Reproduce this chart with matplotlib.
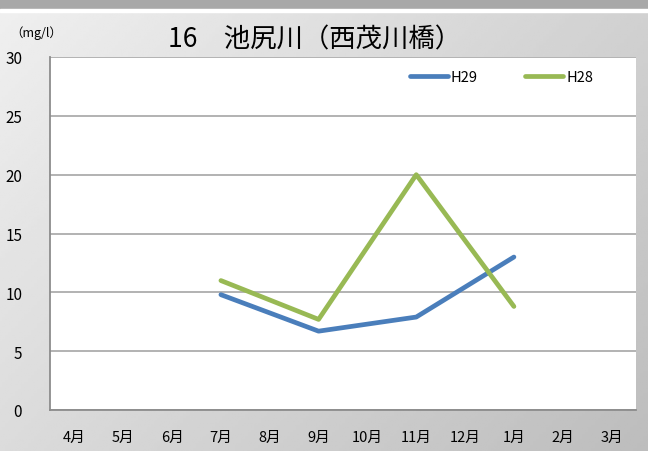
import numpy as np
import matplotlib
matplotlib.use("Agg")
import matplotlib.pyplot as plt

plt.rcParams['font.family'] = ['Noto Sans CJK JP', 'DejaVu Sans']

months = ["4月", "5月", "6月", "7月", "8月", "9月", "10月", "11月", "12月", "1月", "2月", "3月"]
h29 = [np.nan, np.nan, np.nan, 9.8, np.nan, 6.7, np.nan, 7.9, np.nan, 13.0, np.nan, np.nan]
h28 = [np.nan, np.nan, np.nan, 11.0, np.nan, 7.7, np.nan, 20.0, np.nan, 8.8, np.nan, np.nan]
yticks = [0, 5, 10, 15, 20, 25, 30]
title = "16　池尻川（西茂川橋）"
unit = "（mg/l）"

W, H = 648, 452
fig = plt.figure(figsize=(W / 100, H / 100), dpi=100)

# background gradient
bg = fig.add_axes([0, 0, 1, 1], zorder=-10)
yy, xx = np.mgrid[0:1:200j, 0:1:200j]
t = 0.6 * xx + 0.4 * yy
grad = 0.94 - 0.20 * t
bg.imshow(grad, cmap='gray', vmin=0, vmax=1, extent=[0, 1, 0, 1], origin='upper', aspect='auto')
band_h = 10 / H
bg.add_patch(plt.Rectangle((0, 1 - band_h), 1, band_h, color='#a8a8a8', transform=bg.transAxes))
bg.add_patch(plt.Rectangle((0, 1 - band_h - 3 / H), 1, 3 / H, color='#ffffff', transform=bg.transAxes))
bg.set_xlim(0, 1); bg.set_ylim(0, 1)
bg.axis('off')

left, right, top, bottom = 50, 636, 58, 411
ax = fig.add_axes([left / W, 1 - bottom / H, (right - left) / W, (bottom - top) / H])
ax.set_facecolor('white')

x = np.arange(len(months))

def plot_series(vals, color, label):
    v = np.array(vals, dtype=float)
    m = ~np.isnan(v)
    ax.plot(x[m], v[m], color=color, lw=3.4, solid_capstyle='round', label=label, zorder=3)

plot_series(h29, '#4a7ebb', 'H29')
plot_series(h28, '#98b954', 'H28')

ax.set_xlim(-0.5, len(months) - 0.5)
ax.set_ylim(0, 30)
ax.set_yticks(yticks)
ax.set_xticks(x)
ax.set_xticklabels(months, fontsize=10.5)
ax.set_yticklabels([str(v) for v in yticks], fontsize=11)
ax.yaxis.grid(True, color='#a6a6a6', lw=1.2)
ax.set_axisbelow(True)
ax.tick_params(axis='x', length=0, pad=14)
ax.tick_params(axis='y', length=0, pad=20)
for s in ['top', 'right']:
    ax.spines[s].set_visible(False)
for s in ['left', 'bottom']:
    ax.spines[s].set_color('#8c8c8c')
    ax.spines[s].set_linewidth(1.3)

ax.legend(loc='upper right', bbox_to_anchor=(0.949, 1.0), ncol=2, frameon=False,
          fontsize=10.5, handlelength=2.6, columnspacing=3.25, handletextpad=0.2)

fig.text(315 / W, 1 - 40 / H, title, fontsize=19, ha='center', va='center')
fig.text(10 / W, 1 - 33 / H, unit, fontsize=9, ha='left', va='center')

fig.savefig('out.png', dpi=100)
